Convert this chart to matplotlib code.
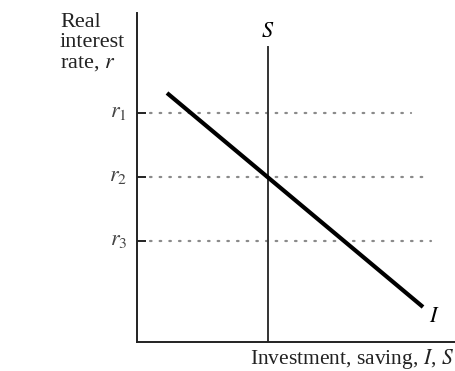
import matplotlib
matplotlib.use('Agg')
import matplotlib.pyplot as plt

plt.rcParams['font.family'] = ['Liberation Serif', 'DejaVu Serif']
plt.rcParams['mathtext.fontset'] = 'stix'

# diagram values (arbitrary units, origin at axes corner)
rate_labels = ['$r_1$', '$r_2$', '$r_3$']
rate_levels = [229, 165, 101]
dot_ends = [274, 293, 294]
saving_level = 131
saving_top = 295
invest_x = [30, 286]
invest_y = [249, 35]

fig = plt.figure(figsize=(4.55, 3.71), dpi=100)
ax = fig.add_axes([137 / 455, 29 / 371, 318 / 455, 329 / 371])
ax.set_xlim(0, 318)
ax.set_ylim(0, 329)

for sp in ['top', 'right']:
    ax.spines[sp].set_visible(False)
for sp in ['left', 'bottom']:
    ax.spines[sp].set_linewidth(1.4)
    ax.spines[sp].set_color('#222222')
ax.set_xticks([])
ax.set_yticks([])

# rate levels: short solid tick then dotted line
for lab, lev, end in zip(rate_labels, rate_levels, dot_ends):
    ax.plot([0, 9], [lev, lev], color='#222222', lw=1.4, solid_capstyle='butt')
    ax.plot([13, end], [lev, lev], color='#8a8a8a', lw=1.6,
            linestyle=(0, (0.7, 3.65)), dash_capstyle='round')
    ax.text(-10, lev + 1, lab, ha='right', va='center', fontsize=16, color='#444444')

# saving (vertical)
ax.plot([saving_level, saving_level], [0, saving_top], color='#333333', lw=1.4)
ax.text(saving_level, saving_top + 5, '$S$', ha='center', va='bottom', fontsize=16)

# investment line
ax.plot(invest_x, invest_y, color='black', lw=3.0, solid_capstyle='butt')
ax.text(invest_x[1] + 6, invest_y[1] - 1, '$I$', ha='left', va='top', fontsize=16)

fig.text(60 / 455, 1 - 13 / 371, 'Real\ninterest\nrate, $r$', ha='left', va='top',
         fontsize=16, linespacing=1.08, color='#222222')
fig.text(454 / 455, 1 - 359 / 371, 'Investment, saving, $I$, $S$', ha='right',
         va='center', fontsize=15.5, color='#222222')

fig.savefig('out.png', dpi=100)
